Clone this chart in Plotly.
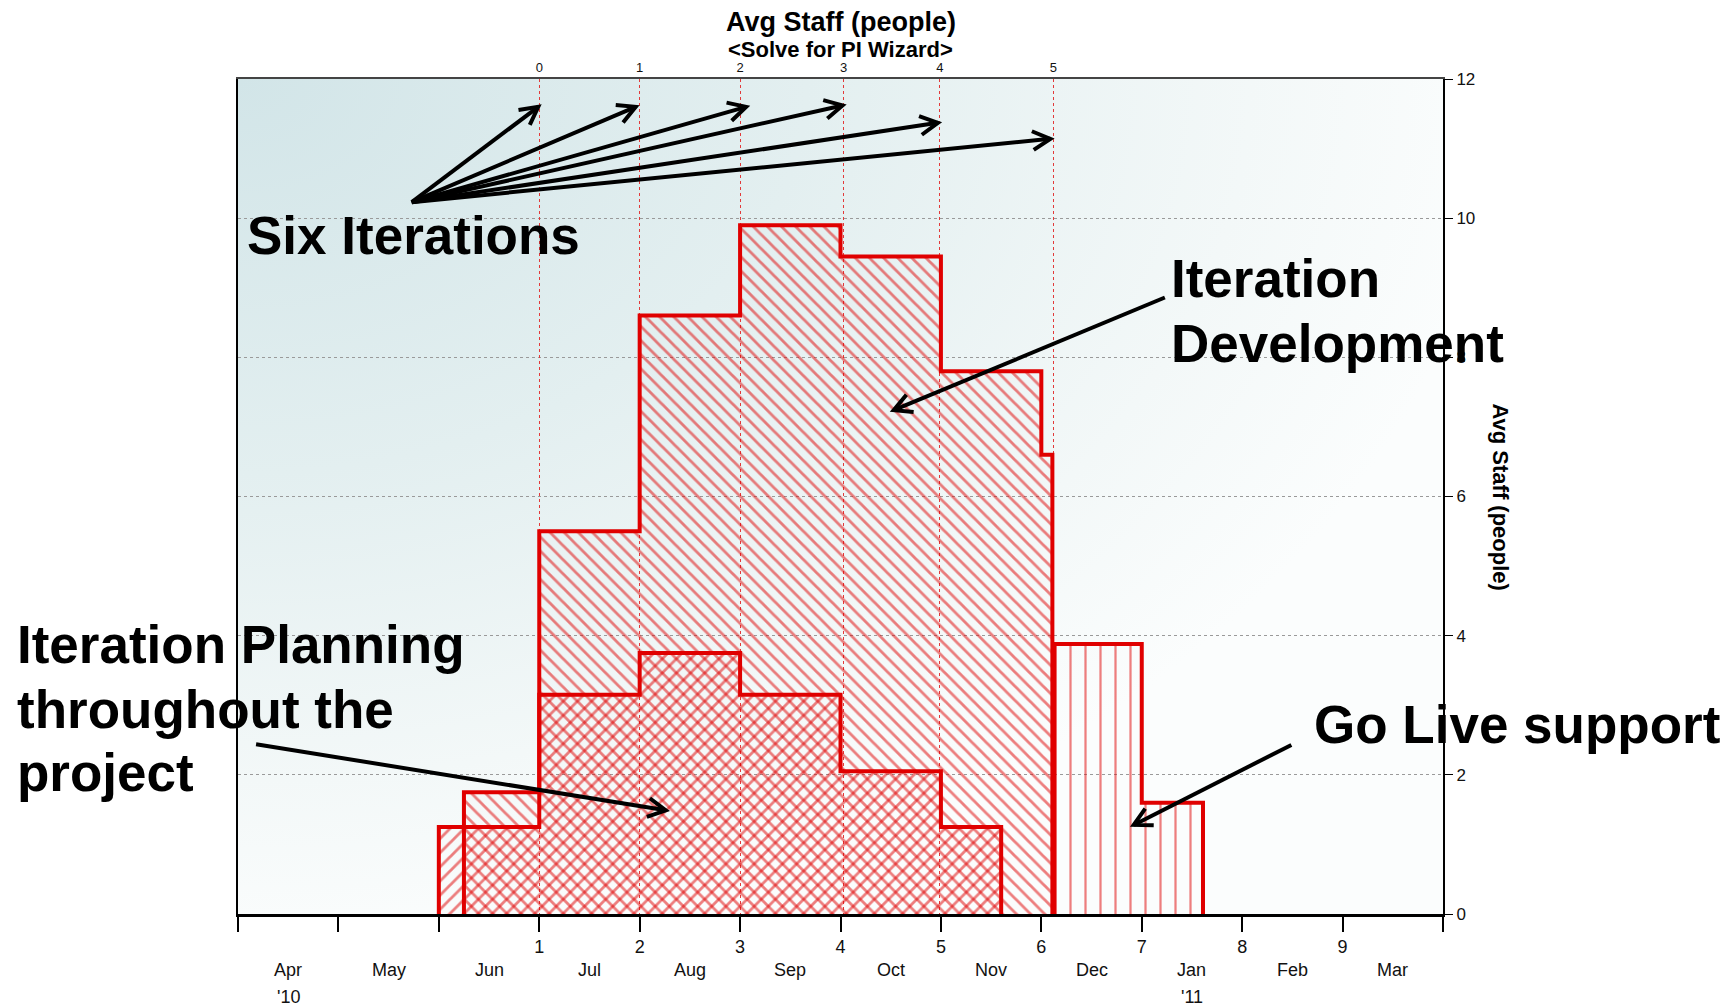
import base64
import math
import plotly.graph_objects as go

# ---------------- data (x = months since 1 Apr 2010) ----------------
month_labels = ["Apr", "May", "Jun", "Jul", "Aug", "Sep", "Oct", "Nov", "Dec", "Jan", "Feb", "Mar"]
year_labels = ["'10", "", "", "", "", "", "", "", "", "'11", "", ""]
project_month_labels = ["", "", "", "1", "2", "3", "4", "5", "6", "7", "8", "9", ""]

iteration_pos = [3.0, 4.0, 5.0, 6.03, 6.99, 8.12]
iteration_labels = ["0", "1", "2", "3", "4", "5"]

planning_start = [2.0, 3.0, 4.0, 5.0, 6.0, 7.0]
planning_staff = [1.25, 3.15, 3.75, 3.15, 2.05, 1.25]
planning_end = 7.6

dev_start = [2.25, 3.0, 4.0, 5.0, 6.0, 7.0, 8.0]
dev_staff = [1.75, 5.5, 8.6, 9.9, 9.45, 7.8, 6.6]
dev_end = 8.11

golive_start = [8.13, 9.0]
golive_staff = [3.88, 1.6]
golive_end = 9.61

staff_ticks = [0, 2, 4, 6, 8, 10, 12]

# ---------------- style ----------------
RED = "#e00000"
FONT = "Liberation Sans, Arial, sans-serif"
W, H = 1729, 1007
ML, MR, MT, MB = 238, 286, 79, 93
PW, PH = W - ML - MR, H - MT - MB
SX, SY = PW / 12.0, PH / 12.0


def step_xy(starts, vals, end):
    xs = [starts[0]] + list(starts) + [end, end]
    ys = [0] + list(vals) + [vals[-1], 0]
    return xs, ys


fig = go.Figure()

series = [
    (planning_start, planning_staff, planning_end, "/", 10, 0.28),
    (dev_start, dev_staff, dev_end, "\\", 10, 0.28),
    (golive_start, golive_staff, golive_end, "|", 15, 0.15),
]
for st, vals, end, shp, size, sol in series:
    xs, ys = step_xy(st, vals, end)
    fig.add_trace(go.Scatter(
        x=xs, y=ys, mode="lines", line=dict(width=0, shape="hv"),
        fill="tozeroy", fillcolor="rgba(0,0,0,0)",
        fillpattern=dict(shape=shp, fgcolor=RED, bgcolor="rgba(0,0,0,0)", size=size, solidity=sol),
        hoverinfo="skip", showlegend=False))
for st, vals, end, *_ in series:
    xs, ys = step_xy(st, vals, end)
    fig.add_trace(go.Scatter(
        x=xs, y=ys, mode="lines", line=dict(width=4, color=RED, shape="hv"),
        hoverinfo="skip", showlegend=False))

# invisible trace to carry the top axis
fig.add_trace(go.Scatter(x=[0], y=[0], xaxis="x2", mode="markers", marker=dict(opacity=0),
                         hoverinfo="skip", showlegend=False))

# ---------------- arrows ----------------
arrow_tails = [(1.73, 10.23)] * 6 + [(9.23, 8.86), (0.18, 2.44), (10.49, 2.43)]
arrow_heads = [(2.99, 11.6), (3.96, 11.6), (5.06, 11.6), (6.02, 11.62), (6.97, 11.37), (8.09, 11.14),
               (6.53, 7.24), (4.26, 1.49), (8.92, 1.28)]

shapes = []
for (tx, ty), (hx, hy) in zip(arrow_tails, arrow_heads):
    dx, dy = (hx - tx) * SX, (hy - ty) * SY
    L = math.hypot(dx, dy)
    ux, uy = -dx / L, -dy / L
    pts = []
    for ang in (math.radians(28), math.radians(-28)):
        rx = ux * math.cos(ang) - uy * math.sin(ang)
        ry = ux * math.sin(ang) + uy * math.cos(ang)
        pts.append((hx + rx * 20 / SX, hy + ry * 20 / SY))
    shapes.append(dict(type="line", xref="x", yref="y", x0=tx, y0=ty, x1=hx, y1=hy,
                       line=dict(color="black", width=4)))
    shapes.append(dict(type="path", xref="x", yref="y",
                       path=f"M {pts[0][0]},{pts[0][1]} L {hx},{hy} L {pts[1][0]},{pts[1][1]}",
                       line=dict(color="black", width=4)))

# ---------------- annotations ----------------
ann = []
big = dict(family=FONT, size=53, color="black")

for text, px, py in [("<b>Six Iterations</b>", 245, 235),
                     ("<b>Iteration</b>", 1169, 278),
                     ("<b>Development</b>", 1169, 343),
                     ("<b>Iteration Planning</b>", 15, 645),
                     ("<b>throughout the</b>", 15, 709),
                     ("<b>project</b>", 15, 772),
                     ("<b>Go Live support</b>", 1312, 724)]:
    ann.append(dict(text=text, x=(px - ML) / PW, y=(MT + PH - py) / PH, xref="paper", yref="paper",
                    xanchor="left", yanchor="middle", showarrow=False, font=big))

for i, m in enumerate(month_labels):
    ann.append(dict(text=m, x=i + 0.5, y=0, xref="x", yref="paper", yanchor="middle",
                    yshift=-56, showarrow=False, font=dict(family=FONT, size=18, color="#111")))
    if year_labels[i]:
        ann.append(dict(text=year_labels[i], x=i + 0.5, y=0, xref="x", yref="paper", yanchor="middle",
                        yshift=-83, showarrow=False, font=dict(family=FONT, size=18, color="#111")))

ann.append(dict(text="<b>Avg Staff (people)</b>", x=0.5, y=(MT + PH - 22) / PH, xref="paper", yref="paper",
                yanchor="middle", showarrow=False, font=dict(family=FONT, size=27, color="black")))
ann.append(dict(text="<b>&lt;Solve for PI Wizard&gt;</b>", x=0.5, y=(MT + PH - 50) / PH, xref="paper",
                yref="paper", yanchor="middle", showarrow=False, font=dict(family=FONT, size=22, color="black")))
ann.append(dict(text="<b>Avg Staff (people)</b>", x=(1500 - ML) / PW, y=0.5, xref="paper", yref="paper",
                textangle=90, xanchor="center", yanchor="middle", showarrow=False,
                font=dict(family=FONT, size=22, color="black")))

# ---------------- background gradient ----------------
svg = ('<svg xmlns="http://www.w3.org/2000/svg" width="1205" height="835" viewBox="0 0 1205 835" '
       'preserveAspectRatio="none"><defs><radialGradient id="g" cx="0" cy="0" r="1.05" '
       'gradientUnits="objectBoundingBox">'
       '<stop offset="0" stop-color="#d2e5e8"/><stop offset="0.45" stop-color="#e3eff0"/>'
       '<stop offset="0.8" stop-color="#f3f8f8"/><stop offset="1" stop-color="#fbfdfd"/>'
       '</radialGradient></defs><rect width="1205" height="835" fill="url(#g)"/></svg>')
src = "data:image/svg+xml;base64," + base64.b64encode(svg.encode()).decode()

fig.update_layout(
    width=W, height=H,
    margin=dict(l=ML, r=MR, t=MT, b=MB, pad=0),
    paper_bgcolor="white", plot_bgcolor="rgba(0,0,0,0)",
    font=dict(family=FONT, color="#111"),
    images=[dict(source=src, xref="paper", yref="paper", x=0, y=1, sizex=1, sizey=1,
                 sizing="stretch", layer="below", xanchor="left", yanchor="top")],
    xaxis=dict(range=[0, 12], tickmode="array", tickvals=list(range(13)), ticktext=project_month_labels,
               ticks="outside", ticklen=15, tickwidth=1.5, tickcolor="black",
               showline=True, linecolor="black", linewidth=2.5, showgrid=False, zeroline=False,
               tickfont=dict(family=FONT, size=18, color="#111")),
    xaxis2=dict(overlaying="x", side="top", range=[0, 12], tickmode="array", tickvals=iteration_pos,
                ticktext=iteration_labels, ticks="", showgrid=True, gridcolor="#e23a3a", griddash="dot",
                gridwidth=1, showline=True, linecolor="#444", linewidth=1.5, zeroline=False,
                tickfont=dict(family=FONT, size=13, color="#111")),
    yaxis=dict(range=[0, 12], side="right", tickmode="array", tickvals=staff_ticks, ticks="outside",
               ticklen=8, tickwidth=1, tickcolor="black", showline=True, mirror=True, linecolor="black",
               linewidth=2, showgrid=True, gridcolor="#9a9a9a", griddash="dot", gridwidth=1,
               zeroline=False, tickfont=dict(family=FONT, size=17, color="#111")),
    shapes=shapes,
    annotations=ann,
)

fig.write_html("out.html", config={"displayModeBar": False},
               post_script="document.body.style.margin='0';")
